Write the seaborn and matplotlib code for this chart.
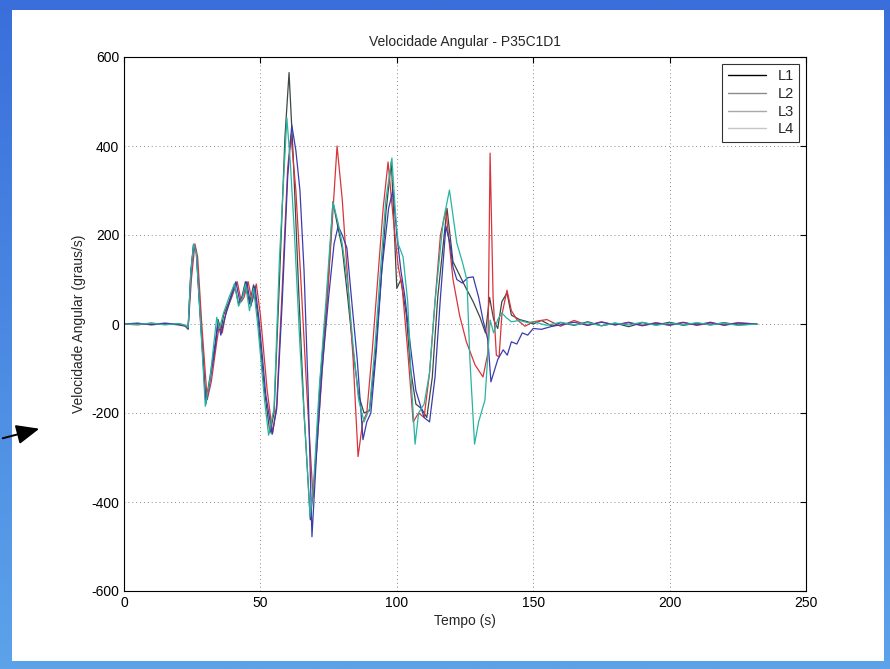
import seaborn as sns
import pandas as pd
import matplotlib
matplotlib.use("Agg")
import matplotlib.pyplot as plt
import numpy as np
from matplotlib.lines import Line2D
from matplotlib.patches import Rectangle

# values (time in s, angular velocity in deg/s)
t_l1 = [0, 5, 10, 15, 20, 22.5, 23.5, 24.5, 25.5, 26.5, 28, 30, 31.5, 33.5, 34.5, 35.5, 36.5, 38.5,
        40.5, 42, 43, 44.5, 46, 47.5, 49, 51.5, 53.5, 55, 57, 59, 60.5, 62, 64, 66, 68.3, 70, 72,
        74.5, 76.6, 78, 80, 82, 84, 86, 88, 90, 92, 94, 96, 98, 100, 101.5, 103.5, 105, 107, 109,
        111, 113, 115, 118.4, 120.6, 123, 125, 128, 130.5, 132.5, 134, 135.5, 137, 138.5, 140.4,
        142, 145, 148, 150, 153, 157, 160, 165, 170, 175, 180, 185, 190, 195, 200, 205, 210, 215,
        220, 225, 232]
v_l1 = [0, 2, -2, 1, -2, -5, -12, 120, 178, 165, 20, -175, -120, -40, 10, -15, 20, 50,
        90, 45, 55, 95, 45, 88, 20, -150, -245, -200, 100, 420, 565, 380, 80, -200, -440, -330, -120,
        60, 275, 230, 170, 60, -60, -160, -200, -195, -80, 80, 250, 365, 80, 100, 20, -100, -180, -190,
        -210, -120, 60, 260, 140, 110, 85, 50, 15, -20, 60, 10, -10, 50, 70,
        20, 10, 5, 0, 8, -5, 3, -3, 5, -4, 2, -6, 3, -2, 4, -3, 2, -2,
        3, -2, 0]

t_l2 = [0, 5, 10, 15, 20, 22.5, 23.5, 24.7, 26, 27, 28.5, 30.5, 32, 34, 35, 36, 37.5, 39.5,
        41.5, 43, 44, 45.5, 47, 48.5, 50, 52.5, 54.5, 56, 58, 60, 61.2, 63, 65, 67, 69.3, 70.7,
        72.5, 75, 78.1, 80, 82, 84, 85.8, 87.5, 89, 91, 93, 95, 96.8, 98.5, 100.5, 102, 104, 106,
        108, 110, 112, 114, 116, 118, 120.6, 123, 125.5, 128.7, 131.6, 133.4, 134.2, 135.3, 136.5,
        137.5, 138.5, 140.4, 142, 144, 147, 150, 155, 160, 165, 170, 175, 180, 185, 190, 195, 200,
        205, 210, 215, 220, 225, 232]
v_l2 = [0, -2, 2, -1, 1, -3, -10, 100, 180, 150, 0, -170, -130, -40, 0, -20, 30, 60,
        95, 50, 60, 95, 50, 90, 20, -150, -245, -180, 80, 350, 425, 300, 80, -150, -390, -276,
        -120, 100, 400, 280, 100, -80, -298, -220, -200, -60, 100, 260, 364, 250, 130, 80, -60, -220,
        -200, -210, -110, 50, 200, 255, 100, 20, -40, -92, -119, -65, 384, 60, -70,
        -74, 20, 76, 30, 10, -5, 5, 10, -5, 8, -3, 5, -2, 4, -3, 3, -2,
        4, -3, 2, -2, 3, 0]

t_l3 = [0, 5, 10, 15, 20, 22.5, 23.5, 24.5, 25.5, 26.5, 28, 30, 31.5, 33.5, 34.5, 35.5, 37, 39,
        41, 42.5, 44, 45, 46.5, 48, 49.5, 52, 54.3, 56, 58, 60, 61.5, 63, 64.5, 66, 67.5, 68.9,
        70.5, 72.5, 75, 77, 78.5, 80, 81.7, 83.5, 85.5, 87.6, 89, 90.5, 92.5, 94.5, 97, 98.6, 100,
        101.5, 103, 105, 107, 110, 112, 114, 116, 118, 119.5, 120.6, 122, 124, 126, 128, 130,
        131.6, 133.4, 134.5, 135.5, 137, 139, 140.5, 142, 144, 146, 148, 150, 153, 157, 160, 165,
        170, 175, 180, 185, 190, 195, 200, 205, 210, 215, 220, 225, 232]
v_l3 = [0, 1, -1, 2, -1, -4, -10, 110, 178, 160, 10, -180, -130, -50, 5, -25, 15, 55,
        95, 50, 70, 95, 40, 85, 10, -160, -248, -190, 50, 330, 447, 390, 300, 120, -150, -478,
        -300, -110, 60, 180, 220, 200, 171, 50, -80, -260, -220, -200, -60, 120, 260, 301, 200,
        120, 60, -50, -150, -210, -220, -120, 60, 220, 180, 128, 100, 92, 104, 106, 60,
        9, -36, -130, -110, -80, -58, -70, -40, -45, -20, -25, -10, -12, -5, -2, 4,
        -3, 4, -2, 3, -4, 2, -3, 3, -2, 4, -3, 2, 0]

t_l4 = [0, 5, 10, 15, 20, 22.5, 23.5, 24.5, 25.5, 26.5, 28, 29.8, 31.5, 33, 34, 35, 36.5, 38.5,
        40.5, 42, 43.5, 44.5, 46, 47.5, 49, 51.5, 53, 55, 57, 59.7, 61, 62.5, 64.5, 66.5, 68.2,
        69.5, 71.5, 74, 76.6, 78.5, 80, 82, 84, 86, 88, 90, 92, 94, 96, 98.2, 99.5, 100.5, 102.3,
        104, 105.5, 106.7, 108, 110, 112, 114, 117, 119.3, 122, 124, 125.7, 126.8, 128.5, 130,
        132.3, 134.2, 135.5, 137, 138.5, 140, 142, 145, 148, 150, 155, 160, 165, 170, 175, 180,
        185, 190, 195, 200, 205, 210, 215, 220, 225, 232]
v_l4 = [0, -1, 2, -2, 1, -3, -8, 115, 180, 160, 10, -185, -125, -40, 15, -10, 25, 60,
        90, 40, 60, 90, 30, 80, 0, -170, -250, -190, 150, 463, 360, 200, -50, -250, -433,
        -360, -150, 50, 274, 227, 180, 90, -50, -170, -220, -190, -50, 120, 280, 373, 250, 180, 151,
        50, -150, -270, -200, -180, -110, 50, 230, 301, 182, 140, 99, -80, -270, -220,
        -171, 9, -20, 10, 25, 15, 5, 8, 3, 5, -3, 4, -2, 3, -4, 2,
        -2, 4, -3, 2, -2, 3, -2, 2, -3, 0]

series = ["L1", "L2", "L3", "L4"]
line_colors = ["#3c4844", "#d8343c", "#3a3cae", "#28b4a0"]
legend_colors = ["#000000", "#8a8a8a", "#a8a8a8", "#c6c6c6"]

df = pd.concat([
    pd.DataFrame({"Tempo": t, "Vel": v, "Serie": name})
    for t, v, name in [(t_l1, v_l1, "L1"), (t_l2, v_l2, "L2"),
                       (t_l3, v_l3, "L3"), (t_l4, v_l4, "L4")]
], ignore_index=True)

sns.set_style("white")
plt.rcParams["font.family"] = ["Liberation Sans", "DejaVu Sans"]
plt.rcParams["axes.unicode_minus"] = False

fig = plt.figure(figsize=(8.9, 6.69), dpi=100)

# slide background: blue gradient with white card
bg = fig.add_axes([0, 0, 1, 1], zorder=-10)
grad = np.linspace(0, 1, 256).reshape(-1, 1)
cmap = matplotlib.colors.LinearSegmentedColormap.from_list("slide", ["#3a6fdb", "#5ca3ea"])
bg.imshow(grad, aspect="auto", cmap=cmap, extent=[0, 1, 0, 1], origin="upper")
bg.add_patch(Rectangle((12 / 890, 8 / 669), (884 - 12) / 890, (659 - 8) / 669,
                       facecolor="white", edgecolor="none"))
bg.set_xlim(0, 1)
bg.set_ylim(0, 1)
bg.axis("off")

ax = fig.add_axes([124 / 890, 1 - 591 / 669, 682 / 890, 534 / 669])
sns.lineplot(data=df, x="Tempo", y="Vel", hue="Serie", palette=dict(zip(series, line_colors)),
             estimator=None, sort=False, linewidth=0.9, legend=False, ax=ax)

ax.set_xlim(0, 250)
ax.set_ylim(-600, 600)
ax.set_xticks(np.arange(0, 251, 50))
ax.set_yticks(np.arange(-600, 601, 200))
ax.grid(True, linestyle=(0, (1, 3)), color="#888888", linewidth=0.7)
ax.tick_params(direction="in", length=4, top=True, right=True, labelsize=10, colors="black")
for s in ax.spines.values():
    s.set_color("black")
    s.set_linewidth(0.8)
ax.set_title("Velocidade Angular - P35C1D1", fontsize=10, pad=8)
ax.set_xlabel("Tempo (s)", fontsize=10, labelpad=3)
ax.set_ylabel("Velocidade Angular (graus/s)", fontsize=10, labelpad=4)

handles = [Line2D([0], [0], color=c, lw=1.0) for c in legend_colors]
leg = ax.legend(handles, series, loc="upper right", fontsize=10.5, frameon=True, fancybox=False,
                handlelength=2.6, handletextpad=0.8, borderaxespad=0.45, labelspacing=0.25)
leg.get_frame().set_edgecolor("black")
leg.get_frame().set_linewidth(0.8)

# arrow pointing at the y label
bg.annotate("", xy=(42 / 890, 1 - 428 / 669), xytext=(0, 1 - 439 / 669),
            xycoords="axes fraction", textcoords="axes fraction",
            arrowprops=dict(arrowstyle="-|>,head_length=0.7,head_width=0.3",
                            color="black", lw=1.4, mutation_scale=20))

fig.savefig("out.png", dpi=100)
